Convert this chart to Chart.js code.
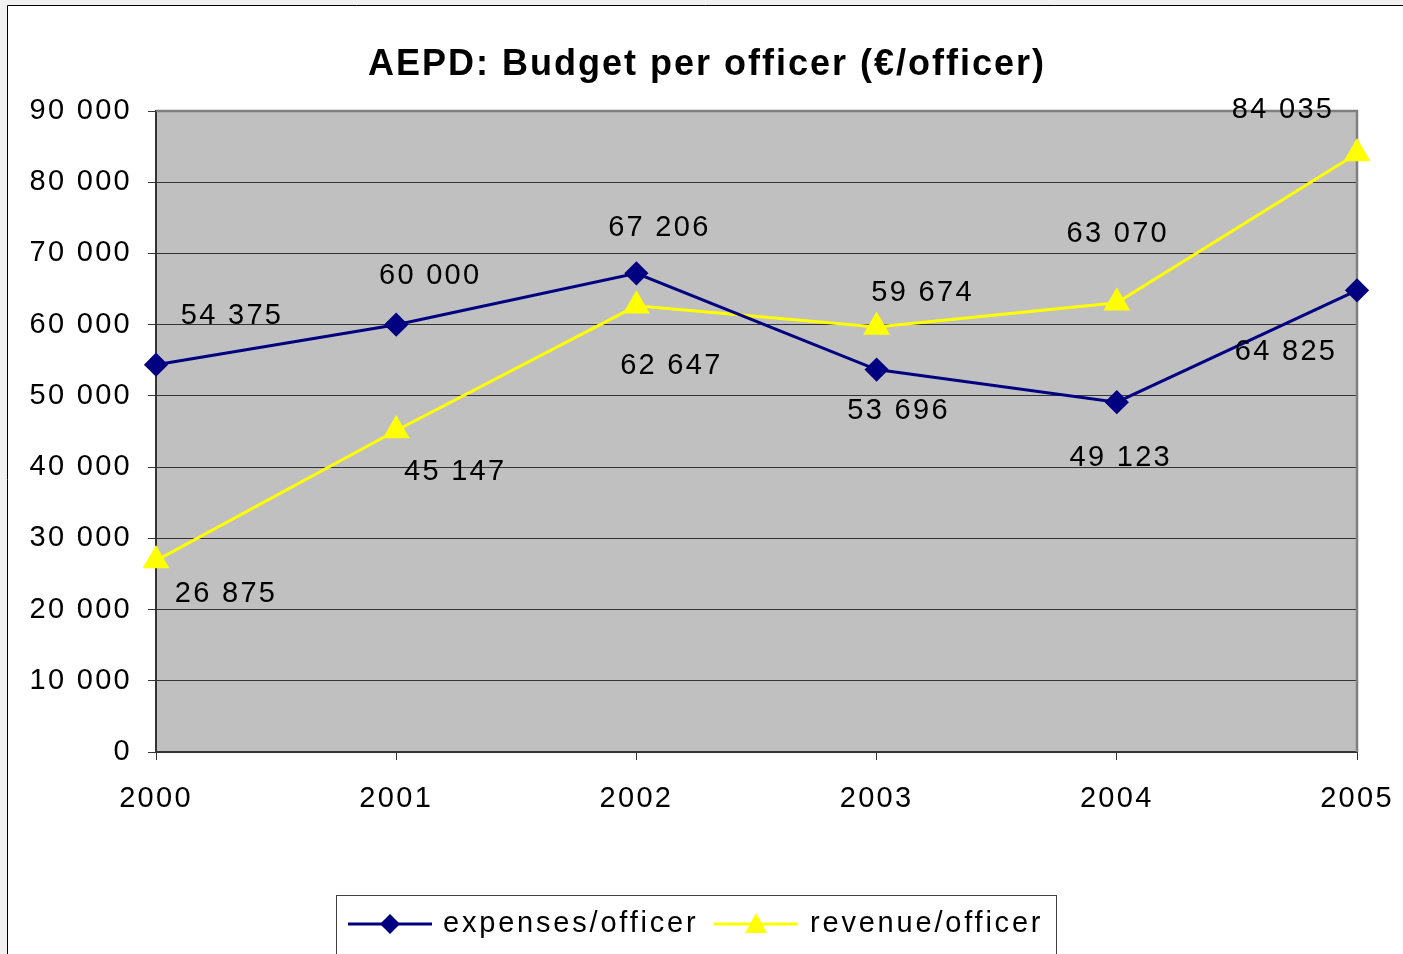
<!DOCTYPE html>
<html><head><meta charset="utf-8">
<script src="https://cdn.jsdelivr.net/npm/chart.js@4/dist/chart.umd.min.js"></script>
<style>html,body{margin:0;padding:0;background:#F0F1F0;overflow:hidden}#wrap{width:1403px;height:954px;position:relative}</style>
</head><body><div id="wrap"><canvas id="c" width="1403" height="954"></canvas></div>
<script>
const titleText = 'AEPD: Budget per officer (€/officer)';
const years = ['2000','2001','2002','2003','2004','2005'];
const expenses = [54375, 60000, 67206, 53696, 49123, 64825];
const revenue = [26875, 45147, 62647, 59674, 63070, 84035];
const seriesNames = ['expenses/officer', 'revenue/officer'];
const yTicks = [0, 10000, 20000, 30000, 40000, 50000, 60000, 70000, 80000, 90000];

// label offsets relative to each point (style)
const expOff = [[76,-51],[34,-51],[23,-47],[22,39],[4,54],[-71,60]];
const revOff = [[70,31],[59,40],[35,58],[46,-36],[1,-71],[-74,-45]];

const FONT = '"Liberation Sans", Arial, sans-serif';
const fmt = v => String(v).replace(/\B(?=(\d{3})+(?!\d))/g, ' ');

const bgPlugin = {
  id: 'bg',
  beforeDraw(chart) {
    const ctx = chart.ctx, a = chart.chartArea;
    ctx.save();
    ctx.fillStyle = '#F0F1F0';
    ctx.fillRect(0, 0, chart.width, chart.height);
    ctx.fillStyle = '#FFFFFF';
    ctx.fillRect(8, 6, chart.width, chart.height);
    ctx.strokeStyle = '#000000';
    ctx.lineWidth = 1;
    ctx.beginPath();
    ctx.moveTo(7.5, chart.height); ctx.lineTo(7.5, 5.5); ctx.lineTo(chart.width, 5.5);
    ctx.stroke();
    ctx.fillStyle = '#C0C0C0';
    ctx.fillRect(a.left, a.top, a.right - a.left, a.bottom - a.top);
    // title
    ctx.fillStyle = '#000';
    ctx.font = 'bold 36px ' + FONT;
    ctx.letterSpacing = '2px';
    ctx.textAlign = 'center';
    ctx.textBaseline = 'middle';
    ctx.fillText(titleText, 707, 65);
    ctx.restore();
    ctx.letterSpacing = '2.3px';
  },
  beforeDatasetsDraw(chart) {
    const ctx = chart.ctx, a = chart.chartArea;
    ctx.save();
    ctx.strokeStyle = '#808080';
    ctx.lineWidth = 2.5;
    ctx.beginPath();
    ctx.moveTo(a.left, a.top); ctx.lineTo(a.right, a.top); ctx.lineTo(a.right, a.bottom);
    ctx.stroke();
    ctx.restore();
  },
  afterDatasetsDraw(chart) {
    const ctx = chart.ctx;
    ctx.save();
    ctx.font = '29px ' + FONT;
    ctx.letterSpacing = '2.3px';
    ctx.fillStyle = '#000';
    ctx.textAlign = 'center';
    ctx.textBaseline = 'middle';
    [[0, expOff], [1, revOff]].forEach(([di, off]) => {
      const meta = chart.getDatasetMeta(di);
      meta.data.forEach((pt, i) => {
        const v = chart.data.datasets[di].data[i];
        ctx.fillText(fmt(v), pt.x + off[i][0], pt.y + off[i][1] + 2);
      });
    });
    // legend
    ctx.strokeStyle = '#404040';
    ctx.lineWidth = 1;
    ctx.strokeRect(336.5, 895.5, 720, 80);
    const items = [
      {x1: 348, x2: 432, tx: 443, color: '#000080', shape: 'd', label: seriesNames[0]},
      {x1: 714, x2: 798, tx: 810, color: '#FFFF00', shape: 't', label: seriesNames[1]}
    ];
    const ly = 924;
    ctx.letterSpacing = '2.8px';
    items.forEach(it => {
      ctx.strokeStyle = it.color; ctx.lineWidth = 3;
      ctx.beginPath(); ctx.moveTo(it.x1, ly); ctx.lineTo(it.x2, ly); ctx.stroke();
      const cx = (it.x1 + it.x2) / 2;
      ctx.fillStyle = it.color;
      ctx.beginPath();
      if (it.shape === 'd') {
        ctx.moveTo(cx, ly - 10); ctx.lineTo(cx + 10, ly); ctx.lineTo(cx, ly + 10); ctx.lineTo(cx - 10, ly);
      } else {
        ctx.moveTo(cx, ly - 11); ctx.lineTo(cx + 11, ly + 9); ctx.lineTo(cx - 11, ly + 9);
      }
      ctx.closePath(); ctx.fill();
      ctx.fillStyle = '#000';
      ctx.textAlign = 'left';
      ctx.fillText(it.label, it.tx, ly);
    });
    ctx.restore();
  }
};

new Chart(document.getElementById('c'), {
  type: 'line',
  data: {
    labels: years,
    datasets: [
      {label: seriesNames[0], data: expenses, borderColor: '#000080', backgroundColor: '#000080',
       borderWidth: 3, pointStyle: 'rectRot', pointRadius: 10, pointHoverRadius: 10, clip: false, tension: 0},
      {label: seriesNames[1], data: revenue, borderColor: '#FFFF00', backgroundColor: '#FFFF00',
       borderWidth: 3, pointStyle: 'triangle', pointRadius: 12.5, pointHoverRadius: 12.5, clip: false, tension: 0}
    ]
  },
  options: {
    responsive: false,
    animation: false,
    events: [],
    layout: {padding: {top: 111, right: 46, bottom: 122, left: 0}},
    plugins: {legend: {display: false}, title: {display: false}, tooltip: {enabled: false}},
    scales: {
      x: {
        type: 'category',
        offset: false,
        afterFit(s) { s.height = 80; s.paddingLeft = 0; s.paddingRight = 0; },
        grid: {display: true, drawOnChartArea: false, drawTicks: true, tickLength: 8, color: '#333', offset: false},
        border: {display: true, color: '#333', width: 2},
        ticks: {color: '#000', font: {family: FONT, size: 29}, padding: 22, maxRotation: 0, autoSkip: false}
      },
      y: {
        min: 0, max: 90000,
        afterFit(s) { s.width = 156; s.paddingTop = 0; s.paddingBottom = 0; },
        afterBuildTicks(s) { s.ticks = yTicks.map(v => ({value: v})); },
        grid: {color: '#333', lineWidth: 1, tickLength: 8, drawTicks: true},
        border: {display: true, color: '#333', width: 2},
        ticks: {color: '#000', font: {family: FONT, size: 29}, padding: 16, callback: v => fmt(v)}
      }
    }
  },
  plugins: [bgPlugin]
});
</script>
</body></html>
